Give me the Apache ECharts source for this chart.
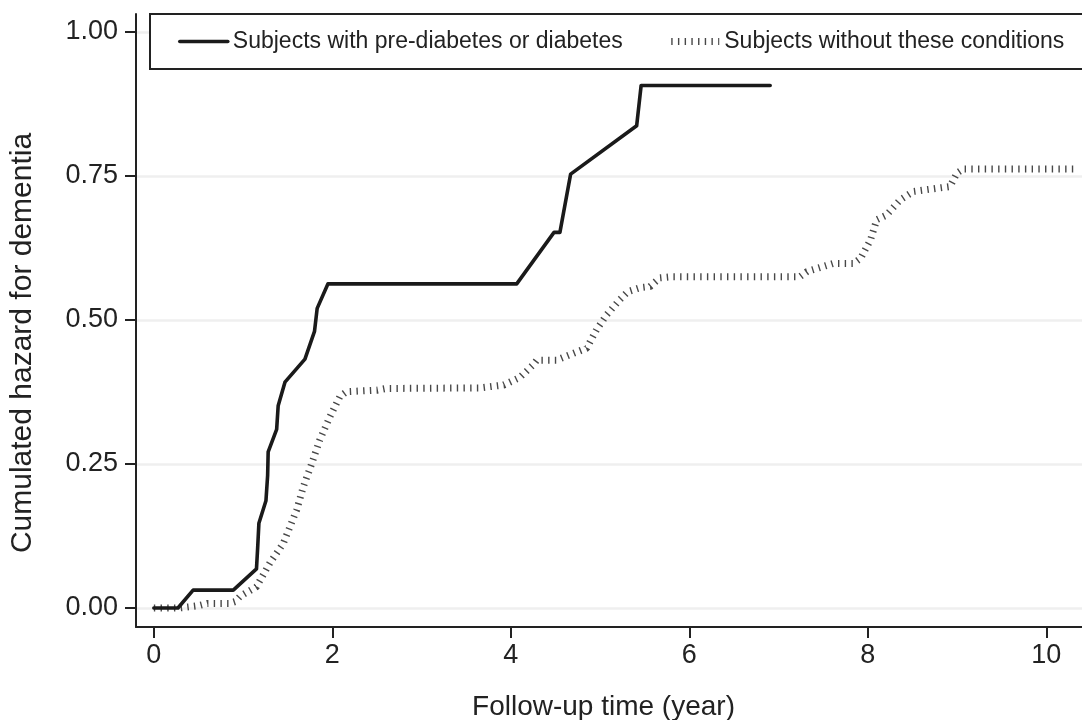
<!DOCTYPE html>
<html><head><meta charset="utf-8">
<script src="https://cdn.jsdelivr.net/npm/echarts@6/dist/echarts.min.js"></script>
<style>html,body{margin:0;padding:0;background:#fff}#c{width:1082px;height:720px}</style>
</head><body><div id="c"></div>
<script>
const seriesNames = ['Subjects with pre-diabetes or diabetes', 'Subjects without these conditions'];
const diabTime =   [0, 0.27, 0.44, 0.89, 1.15, 1.163, 1.177, 1.256, 1.275, 1.281, 1.376, 1.393, 1.469, 1.693, 1.712, 1.80, 1.83, 1.95, 4.066, 4.484, 4.55, 4.67, 5.41, 5.46, 6.906];
const diabHazard = [0, 0,    0.031, 0.031, 0.068, 0.104, 0.147, 0.186, 0.230, 0.271, 0.310, 0.351, 0.392, 0.432, 0.434, 0.48, 0.52, 0.5625, 0.5625, 0.652, 0.652, 0.753, 0.837, 0.907, 0.907];
const noTime =   [0, 0.29, 0.5, 0.6, 0.85, 0.91, 0.964, 1.15, 1.30, 1.45, 1.60, 1.674, 1.77, 1.86, 1.973, 2.085, 2.16, 2.50, 2.6, 3.65, 3.92, 4.10, 4.25, 4.29, 4.51, 4.63, 4.85, 4.96, 5.075, 5.22, 5.31, 5.45, 5.56, 5.67, 5.8, 7.24, 7.32, 7.61, 7.84, 7.92, 8.03, 8.10, 8.21, 8.36, 8.51, 8.92, 9.0, 9.07, 10.31];
const noHazard = [0, 0, 0.004, 0.008, 0.008, 0.011, 0.02, 0.037, 0.078, 0.112, 0.17, 0.21, 0.251, 0.292, 0.332, 0.367, 0.3755, 0.378, 0.381, 0.382, 0.387, 0.40, 0.422, 0.43, 0.43, 0.4375, 0.451, 0.483, 0.509, 0.535, 0.549, 0.556, 0.558, 0.573, 0.575, 0.575, 0.584, 0.598, 0.598, 0.607, 0.639, 0.674, 0.682, 0.708, 0.723, 0.7315, 0.755, 0.762, 0.762];
const xTicks = [0, 2, 4, 6, 8, 10];
const yTicks = [0, 0.25, 0.5, 0.75, 1];
const xTitle = 'Follow-up time (year)';
const yTitle = 'Cumulated hazard for dementia';

const FONT = '"Liberation Sans", Arial, Helvetica, sans-serif';
const zip = (a, b) => a.map((v, i) => [v, b[i]]);

const solidStyle = {color: '#1a1a1a', width: 3.6, join: 'round', cap: 'round'};
const dotStyle = {color: '#484848', width: 7, type: [1.4, 5.3], cap: 'butt'};

const chart = echarts.init(document.getElementById('c'), null, {renderer: 'canvas'});
chart.setOption({
  animation: false,
  backgroundColor: '#fff',
  grid: {left: 136, right: 0, top: 14, bottom: 93, containLabel: false, outerBoundsMode: 'none'},
  legend: {
    data: [
      {name: seriesNames[0], lineStyle: solidStyle},
      {name: seriesNames[1], lineStyle: dotStyle}
    ],
    orient: 'horizontal',
    left: 150, top: 14, width: 1100,
    padding: [16, 40, 16, 28],
    itemWidth: 48, itemHeight: 14, itemGap: 45,
    itemStyle: {opacity: 0},
    borderColor: '#222', borderWidth: 2,
    backgroundColor: '#fff',
    textStyle: {fontFamily: FONT, fontSize: 23, color: '#222'}
  },
  graphic: [
    {type: 'text', x: 603.5, y: 707, z: 10, silent: true,
      style: {text: xTitle, font: '28px ' + FONT, fill: '#222', textAlign: 'center', textVerticalAlign: 'middle'}},
    {type: 'text', x: 22.5, y: 343, rotation: Math.PI / 2, z: 10, silent: true,
      style: {text: yTitle, font: '30px ' + FONT, fill: '#222', textAlign: 'center', textVerticalAlign: 'middle'}}
  ],
  xAxis: {
    type: 'value', min: -0.2, max: 10.4,
    axisLine: {show: true, onZero: false, lineStyle: {color: '#222', width: 2}},
    axisTick: {show: true, length: 11, customValues: xTicks, lineStyle: {color: '#222', width: 2}},
    axisLabel: {customValues: xTicks, margin: 15, fontFamily: FONT, fontSize: 27, color: '#222'},
    splitLine: {show: false}
  },
  yAxis: {
    type: 'value', min: -0.033, max: 1.031,
    axisLine: {show: true, onZero: false, lineStyle: {color: '#222', width: 2}},
    axisTick: {show: true, length: 11, customValues: yTicks, lineStyle: {color: '#222', width: 2}},
    axisLabel: {customValues: yTicks, margin: 18, fontFamily: FONT, fontSize: 27, color: '#222',
      formatter: v => v.toFixed(2)},
    splitLine: {show: false}
  },
  series: [
    {
      name: seriesNames[1], type: 'line', data: zip(noTime, noHazard),
      symbol: 'none', z: 2,
      lineStyle: dotStyle,
      itemStyle: {color: '#484848'},
      markLine: {
        silent: true, symbol: 'none', label: {show: false}, z: 0,
        lineStyle: {color: '#efefef', width: 2.5, type: 'solid'},
        data: yTicks.map(v => ({yAxis: v}))
      }
    },
    {
      name: seriesNames[0], type: 'line', data: zip(diabTime, diabHazard),
      symbol: 'none', z: 3,
      lineStyle: solidStyle,
      itemStyle: {color: '#1a1a1a'}
    }
  ]
});
</script></body></html>
